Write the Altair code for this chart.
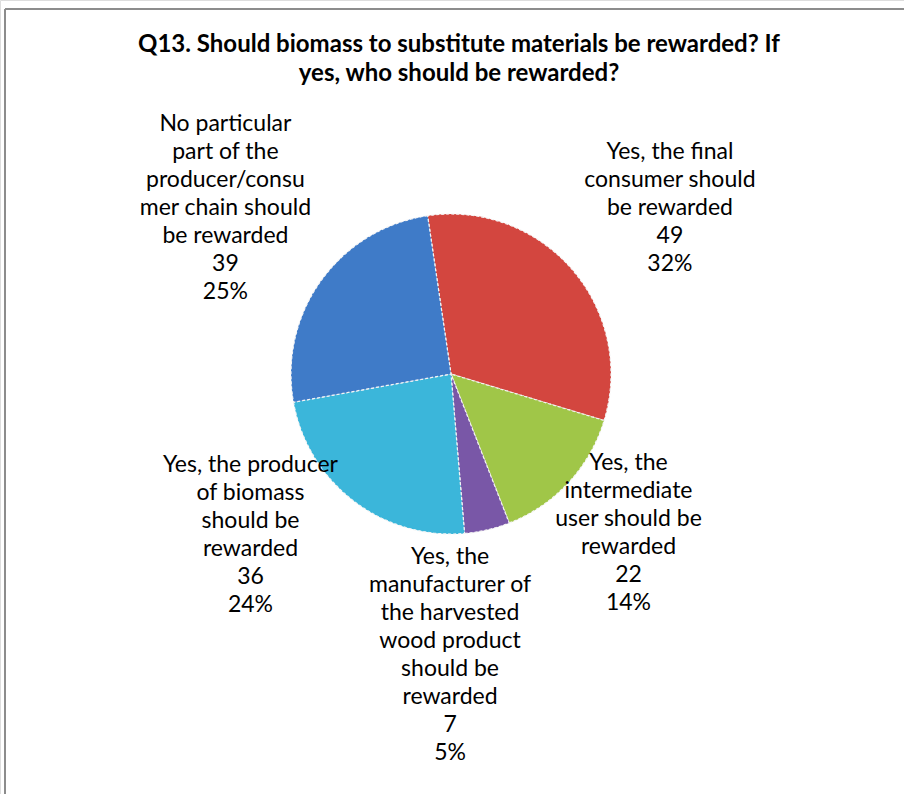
import math
import altair as alt
import pandas as pd

# ---- data ----
categories = [
    "Yes, the final consumer should be rewarded",
    "Yes, the intermediate user should be rewarded",
    "Yes, the manufacturer of the harvested wood product should be rewarded",
    "Yes, the producer of biomass should be rewarded",
    "No particular part of the producer/consumer chain should be rewarded",
]
counts = [49, 22, 7, 36, 39]
percents = ["32%", "14%", "5%", "24%", "25%"]
label_lines = [
    ["Yes, the final", "consumer should", "be rewarded"],
    ["Yes, the", "intermediate", "user should be", "rewarded"],
    ["Yes, the", "manufacturer of", "the harvested", "wood product", "should be", "rewarded"],
    ["Yes, the producer", "of biomass", "should be", "rewarded"],
    ["No particular", "part of the", "producer/consu", "mer chain should", "be rewarded"],
]
title_lines = ["Q13. Should biomass to substitute materials be rewarded? If",
               "yes, who should be rewarded?"]

# ---- style / layout ----
colors = ["#D3463F", "#A0C648", "#7957A7", "#3BB6DA", "#3F7BC8"]
CX, CY, R = 451, 374, 160
START = math.radians(-8.4)
label_nudge_deg = [3.5, -1.0, 13.3, 13.8, 0.6]
label_radius = [275, 238, 281, 257, 280]
FONT = "Lato"
LFS, LH = 23, 28
FRAME = "#8c8c8c"

df = pd.DataFrame({
    "idx": list(range(len(categories))),
    "category": categories,
    "count": counts,
    "label": ["\n".join(l + [str(c), p]) for l, c, p in zip(label_lines, counts, percents)],
    "nlines": [len(l) + 2 for l in label_lines],
    "nudge": label_nudge_deg,
    "lr": label_radius,
})

base = alt.Chart(df)

arc = base.mark_arc(outerRadius=R, stroke="#f4f4f4", strokeWidth=1.2, strokeDash=[3, 2]).encode(
    theta=alt.Theta("count:Q", stack=True,
                    scale=alt.Scale(range=[START, START + 2 * math.pi])),
    order=alt.Order("idx:O"),
    color=alt.Color("category:N", scale=alt.Scale(domain=categories, range=colors), legend=None),
    x=alt.value(CX),
    y=alt.value(CY),
)

text = base.transform_window(
    cum="sum(count)", sort=[alt.SortField("idx")], frame=[None, 0]
).transform_joinaggregate(
    total="sum(count)"
).transform_calculate(
    ang=f"(datum.cum - datum.count/2)/datum.total*2*PI + {START} + datum.nudge*PI/180"
).transform_calculate(
    px=f"{CX} + datum.lr*sin(datum.ang)",
    py=f"{CY} - datum.lr*cos(datum.ang) - (datum.nlines - 1)*{LH}/2",
).mark_text(
    lineBreak="\n", font=FONT, fontSize=LFS, lineHeight=LH,
    align="center", baseline="middle", color="black"
).encode(
    x=alt.X("px:Q", scale=None, axis=None),
    y=alt.Y("py:Q", scale=None, axis=None),
    text="label:N",
)

one = pd.DataFrame({"a": [0]})
frame_left = alt.Chart(one).mark_rule(color=FRAME, strokeWidth=2).encode(
    x=alt.value(5), y=alt.value(9), y2=alt.value(2000)
)
frame_top = alt.Chart(one).mark_rule(color=FRAME, strokeWidth=2).encode(
    x=alt.value(5), x2=alt.value(2000), y=alt.value(9)
)

chart = alt.layer(frame_left, frame_top, arc, text).properties(
    width=904, height=794,
    autosize=alt.AutoSizeParams(type="none"),
    padding=0,
    title=alt.TitleParams(
        text=title_lines, font=FONT, fontSize=24, fontWeight="bold",
        color="black", anchor="middle", offset=-86, lineHeight=29, dx=7,
    ),
).configure_view(stroke="transparent").configure(background="white")

chart.save("out.html", embed_options={"renderer": "svg", "actions": False})
